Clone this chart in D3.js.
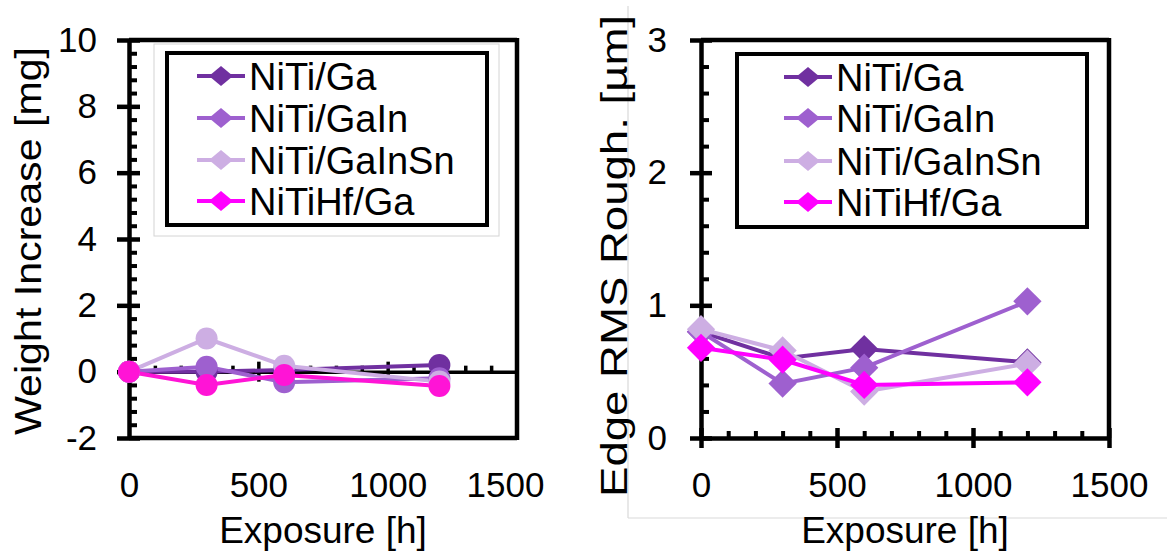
<!DOCTYPE html>
<html>
<head>
<meta charset="utf-8">
<script src="https://cdn.jsdelivr.net/npm/d3@7"></script>
<style>
  html, body { margin: 0; padding: 0; background: #fff; }
  svg { display: block; font-family: "Liberation Sans", Arial, sans-serif; }
  .tick text { font-family: "Liberation Sans", Arial, sans-serif; }
</style>
</head>
<body>
<svg id="chart" width="1167" height="559"></svg>
<script>
// Exposure times (h) at which samples were measured
const exposureHours = [0, 300, 600, 1200];

// Series names and colours
const seriesNames = ["NiTi/Ga", "NiTi/GaIn", "NiTi/GaInSn", "NiTiHf/Ga"];
const seriesColors = ["#7030a0", "#9e60cf", "#cdaee3", "#ff00ff"];
const weightPointColors = ["#7030a0", "#9e60cf", "#cdaee3", "#ff14d6"];

// Weight increase [mg]
const weightGa = [0, 0.0, 0.05, 0.2];
const weightGaIn = [0, 0.15, -0.32, -0.2];
const weightGaInSn = [0, 1.0, 0.18, -0.3];
const weightHfGa = [0, -0.4, -0.1, -0.43];

// Edge RMS roughness [µm]
const roughGa = [0.80, 0.60, 0.67, 0.57];
const roughGaIn = [0.80, 0.41, 0.53, 1.03];
const roughGaInSn = [0.82, 0.66, 0.35, 0.56];
const roughHfGa = [0.68, 0.59, 0.40, 0.42];

// Axis ticks
const xMajorTicks = [0, 500, 1000, 1500];
const xMinorTicks = [100, 200, 300, 400, 600, 700, 800, 900, 1100, 1200, 1300, 1400];
const weightMajorTicks = [-2, 0, 2, 4, 6, 8, 10];
const weightMinorTicks = [-1.6, -1.2, -0.8, -0.4, 0.4, 0.8, 1.2, 1.6, 2.4, 2.8, 3.2, 3.6,
  4.4, 4.8, 5.2, 5.6, 6.4, 6.8, 7.2, 7.6, 8.4, 8.8, 9.2, 9.6];
const roughMajorTicks = [0, 1, 2, 3];
const roughMinorTicks = [0.2, 0.4, 0.6, 0.8, 1.2, 1.4, 1.6, 1.8, 2.2, 2.4, 2.6, 2.8];

const weightSeries = [weightGa, weightGaIn, weightGaInSn, weightHfGa];
const roughSeries = [roughGa, roughGaIn, roughGaInSn, roughHfGa];

const svg = d3.select("#chart");
const TICK_FONT = 35;
const TITLE_FONT = 37;
const LEGEND_FONT = 38;
const AXIS_W = 4.5;
const plainNumber = d => String(d);

function styleAxis(g, width) {
  g.selectAll("path.domain").attr("stroke", "#000").attr("stroke-width", width)
    .style("stroke-width", width + "px");
  g.selectAll(".tick line").attr("stroke", "#000").attr("stroke-width", width)
    .style("stroke-width", width + "px");
  g.selectAll(".tick text").attr("font-size", TICK_FONT).style("fill", "#000");
}

// ---------- Left panel: weight increase ----------
const xL = d3.scaleLinear().domain([0, 1500]).range([129, 517]);
const yL = d3.scaleLinear().domain([-2, 10]).range([438, 40]);

// Light outer frame behind the legend
svg.append("rect").attr("x", 154).attr("y", 44).attr("width", 345).attr("height", 192)
  .attr("fill", "none").attr("stroke", "#d4d4d4").attr("stroke-width", 1);

// Frame: top, right, bottom
const frameL = svg.append("g").attr("stroke", "#000").attr("stroke-width", AXIS_W);
frameL.append("line").attr("x1", xL(0)).attr("x2", xL(1500)).attr("y1", yL(10)).attr("y2", yL(10));
frameL.append("line").attr("x1", xL(1500)).attr("x2", xL(1500)).attr("y1", yL(10) - 2).attr("y2", yL(-2) + 2);
frameL.append("line").attr("x1", xL(0)).attr("x2", xL(1500)).attr("y1", yL(-2)).attr("y2", yL(-2));

// Y axis: major ticks crossing the axis, minor ticks inside
svg.append("g").attr("transform", `translate(${xL(0)},0)`)
  .call(d3.axisLeft(yL).tickValues(weightMajorTicks).tickFormat(plainNumber).tickSize(12).tickPadding(20).tickSizeOuter(0))
  .call(g => styleAxis(g, AXIS_W));
svg.append("g").attr("transform", `translate(${xL(0)},0)`)
  .call(d3.axisRight(yL).tickValues(weightMajorTicks).tickSize(11).tickFormat("").tickSizeOuter(0))
  .call(g => { g.select("path.domain").remove(); styleAxis(g, AXIS_W); });
svg.append("g").attr("transform", `translate(${xL(0)},0)`)
  .call(d3.axisRight(yL).tickValues(weightMinorTicks).tickSize(8).tickFormat("").tickSizeOuter(0))
  .call(g => { g.select("path.domain").remove(); styleAxis(g, 4); });

// X axis at zero weight: major ticks crossing, minor ticks upward
const innerMajor = xMajorTicks.filter(v => v > 0 && v < 1500);
svg.append("g").attr("transform", `translate(0,${yL(0)})`)
  .call(d3.axisBottom(xL).tickValues(innerMajor).tickSize(10).tickFormat("").tickSizeOuter(0))
  .call(g => styleAxis(g, 3.5));
svg.append("g").attr("transform", `translate(0,${yL(0)})`)
  .call(d3.axisTop(xL).tickValues(innerMajor).tickSize(10).tickFormat("").tickSizeOuter(0))
  .call(g => { g.select("path.domain").remove(); styleAxis(g, 3.5); });
svg.append("g").attr("transform", `translate(0,${yL(0)})`)
  .call(d3.axisTop(xL).tickValues(xMinorTicks).tickSize(6).tickFormat("").tickSizeOuter(0))
  .call(g => { g.select("path.domain").remove(); styleAxis(g, 3.5); });

// X tick labels below the plot; the last one is pulled inward to stay inside the chart area
svg.append("g").attr("transform", `translate(0,${yL(-2)})`)
  .call(d3.axisBottom(xL).tickValues(xMajorTicks).tickFormat(plainNumber).tickSize(0).tickPadding(34))
  .call(g => {
    g.select("path.domain").remove();
    styleAxis(g, 0);
    g.selectAll(".tick text").filter(d => d === 1500).attr("dx", -12);
  });

// Titles
svg.append("text").attr("x", (xL(0) + xL(1500)) / 2).attr("y", 543)
  .attr("text-anchor", "middle").attr("font-size", TITLE_FONT).text("Exposure [h]");
svg.append("text").attr("transform", "translate(41,241) rotate(-90)")
  .attr("text-anchor", "middle").attr("font-size", TITLE_FONT)
  .attr("textLength", 388).attr("lengthAdjust", "spacingAndGlyphs")
  .text("Weight Increase [mg]");

// Lines and round markers
const lineL = d3.line().x((d, i) => xL(exposureHours[i])).y(d => yL(d));
weightSeries.forEach((vals, s) => {
  svg.append("path").datum(vals).attr("d", lineL)
    .attr("fill", "none").attr("stroke", weightPointColors[s]).attr("stroke-width", 4);
});
weightSeries.forEach((vals, s) => {
  svg.append("g").selectAll("circle").data(vals).join("circle")
    .attr("cx", (d, i) => xL(exposureHours[i])).attr("cy", d => yL(d)).attr("r", 11)
    .attr("fill", weightPointColors[s]);
});

// ---------- Right panel: edge RMS roughness ----------
const xR = d3.scaleLinear().domain([0, 1500]).range([701, 1109]);
const yR = d3.scaleLinear().domain([0, 3]).range([438, 40]);

// Light chart-area frame
const areaR = svg.append("g").attr("stroke", "#d9d9d9").attr("stroke-width", 1.2);
areaR.append("line").attr("x1", 628).attr("x2", 628).attr("y1", 6).attr("y2", 518);
areaR.append("line").attr("x1", 628).attr("x2", 1167).attr("y1", 518).attr("y2", 518);

const frameR = svg.append("g").attr("stroke", "#000").attr("stroke-width", AXIS_W);
frameR.append("line").attr("x1", xR(0)).attr("x2", xR(1500)).attr("y1", yR(3)).attr("y2", yR(3));
frameR.append("line").attr("x1", xR(1500)).attr("x2", xR(1500)).attr("y1", yR(3) - 2).attr("y2", yR(0));

svg.append("g").attr("transform", `translate(${xR(0)},0)`)
  .call(d3.axisLeft(yR).tickValues(roughMajorTicks).tickFormat(plainNumber).tickSize(11).tickPadding(23).tickSizeOuter(0))
  .call(g => styleAxis(g, AXIS_W));
svg.append("g").attr("transform", `translate(${xR(0)},0)`)
  .call(d3.axisRight(yR).tickValues(roughMajorTicks).tickSize(11).tickFormat("").tickSizeOuter(0))
  .call(g => { g.select("path.domain").remove(); styleAxis(g, AXIS_W); });
svg.append("g").attr("transform", `translate(${xR(0)},0)`)
  .call(d3.axisRight(yR).tickValues(roughMinorTicks).tickSize(8).tickFormat("").tickSizeOuter(0))
  .call(g => { g.select("path.domain").remove(); styleAxis(g, 4); });

svg.append("g").attr("transform", `translate(0,${yR(0)})`)
  .call(d3.axisBottom(xR).tickValues(xMajorTicks).tickFormat(plainNumber).tickSize(10).tickPadding(24).tickSizeOuter(0))
  .call(g => styleAxis(g, AXIS_W));
svg.append("g").attr("transform", `translate(0,${yR(0)})`)
  .call(d3.axisTop(xR).tickValues(xMajorTicks).tickSize(10).tickFormat("").tickSizeOuter(0))
  .call(g => { g.select("path.domain").remove(); styleAxis(g, AXIS_W); });
svg.append("g").attr("transform", `translate(0,${yR(0)})`)
  .call(d3.axisTop(xR).tickValues(xMinorTicks).tickSize(7).tickFormat("").tickSizeOuter(0))
  .call(g => { g.select("path.domain").remove(); styleAxis(g, 4); });

svg.append("text").attr("x", (xR(0) + xR(1500)) / 2).attr("y", 543)
  .attr("text-anchor", "middle").attr("font-size", TITLE_FONT).text("Exposure [h]");
svg.append("text").attr("transform", "translate(627,256) rotate(-90)")
  .attr("text-anchor", "middle").attr("font-size", TITLE_FONT)
  .attr("textLength", 482).attr("lengthAdjust", "spacingAndGlyphs")
  .text("Edge RMS Rough. [µm]");

const lineR = d3.line().x((d, i) => xR(exposureHours[i])).y(d => yR(d));
const diamond = d3.symbol().type(d3.symbolSquare).size(400);
roughSeries.forEach((vals, s) => {
  svg.append("path").datum(vals).attr("d", lineR)
    .attr("fill", "none").attr("stroke", seriesColors[s]).attr("stroke-width", 4);
  svg.append("g").selectAll("path").data(vals).join("path")
    .attr("d", diamond)
    .attr("transform", (d, i) => `translate(${xR(exposureHours[i])},${yR(d)}) rotate(45)`)
    .attr("fill", seriesColors[s]);
});

// ---------- Legends ----------
function legend(box, lineX0, lineX1, textX, rowsY) {
  svg.append("rect").attr("x", box[0]).attr("y", box[1]).attr("width", box[2]).attr("height", box[3])
    .attr("fill", "#fff").attr("stroke", "#000").attr("stroke-width", 4);
  const rows = svg.append("g").selectAll("g").data(seriesNames).join("g")
    .attr("transform", (d, i) => `translate(0,${rowsY[i]})`);
  rows.append("line").attr("x1", lineX0).attr("x2", lineX1)
    .attr("stroke", (d, i) => seriesColors[i]).attr("stroke-width", 4);
  rows.append("path")
    .attr("d", "M0,-10L12,0L0,10L-12,0Z")
    .attr("transform", `translate(${(lineX0 + lineX1) / 2},0)`)
    .attr("fill", (d, i) => seriesColors[i]);
  rows.append("text").attr("x", textX).attr("dy", "0.36em")
    .attr("font-size", LEGEND_FONT).text(d => d);
}
legend([167, 53, 320, 172], 197, 245, 249, [76, 118, 160, 201]);
legend([737, 54, 350, 173], 784, 832, 836, [77, 118, 161, 202]);
</script>
</body>
</html>
